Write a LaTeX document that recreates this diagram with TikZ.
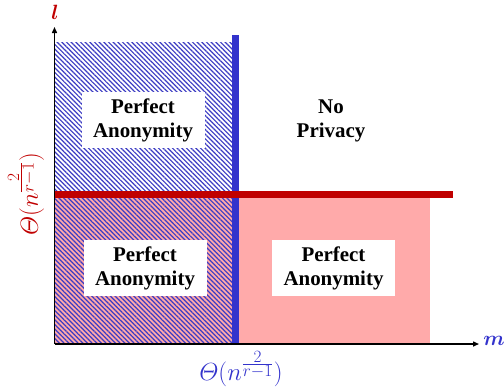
\documentclass[tikz,border=0pt]{standalone}
\usepackage{amsmath,bm}
\usepackage{fontspec}
\setmainfont{Liberation Serif}
\usetikzlibrary{arrows.meta,patterns.meta}
\definecolor{hblue}{RGB}{51,51,204}
\definecolor{hatchblue}{RGB}{60,60,195}
\definecolor{lpink}{RGB}{255,170,170}
\definecolor{dred}{RGB}{192,0,0}
\newcommand{\thetaexpr}{$\varTheta(n^{\frac{\scriptstyle 2}{\scriptstyle r-1}})$}
\tikzset{
  regionlabel/.style={fill=white, align=center, inner sep=0pt,
    minimum width=123bp, minimum height=56bp,
    font=\fontsize{21}{24}\selectfont\bfseries},
  axis/.style={line width=1.4bp, -{Triangle[length=6bp,width=5bp]}},
  thetalabel/.style={font=\fontsize{24}{28}\selectfont, inner sep=0pt},
}
\begin{document}
\begin{tikzpicture}[x=1bp,y=1bp]
\useasboundingbox (0,0) rectangle (504,391);
% pink region
\fill[lpink] (55,47) rectangle (430,193);
% hatched region
\fill[pattern={Lines[angle=-45,distance=3.3bp,line width=1.2bp]}, pattern color=hatchblue]
  (55,47) rectangle (233,349);
% blue vertical line
\draw[hblue, line width=7bp] (235.5,47) -- (235.5,356);
% red horizontal line
\draw[dred, line width=7bp] (55,196.5) -- (453,196.5);
% axes
\coordinate (O) at (54.5,47);
\coordinate (ytip) at (54.5,364);
\coordinate (xtip) at (479,47);
\draw[axis] (O) -- (ytip);
\draw[axis] (O) -- (xtip);
% axis labels
\node[dred, font=\fontsize{20}{24}\selectfont, inner sep=0pt] (l) at (55,379) {$\bm{l}$};
\node[hblue, font=\fontsize{20}{24}\selectfont, inner sep=0pt] (m) at (494,50) {$\bm{m}$};
\node[thetalabel, dred, rotate=90] (ty) at (26,197) {\thetaexpr};
\node[thetalabel, hblue] (tx) at (241,22) {\thetaexpr};
% region labels
\node[regionlabel] (pa1) at (143,271) {Perfect\\Anonymity};
\node[regionlabel] (pa2) at (145,123) {Perfect\\Anonymity};
\node[regionlabel] (pa3) at (333.5,123) {Perfect\\Anonymity};
\node[align=center, font=\fontsize{21}{24}\selectfont\bfseries] (np) at (331,270) {No\\Privacy};
\end{tikzpicture}
\end{document}
